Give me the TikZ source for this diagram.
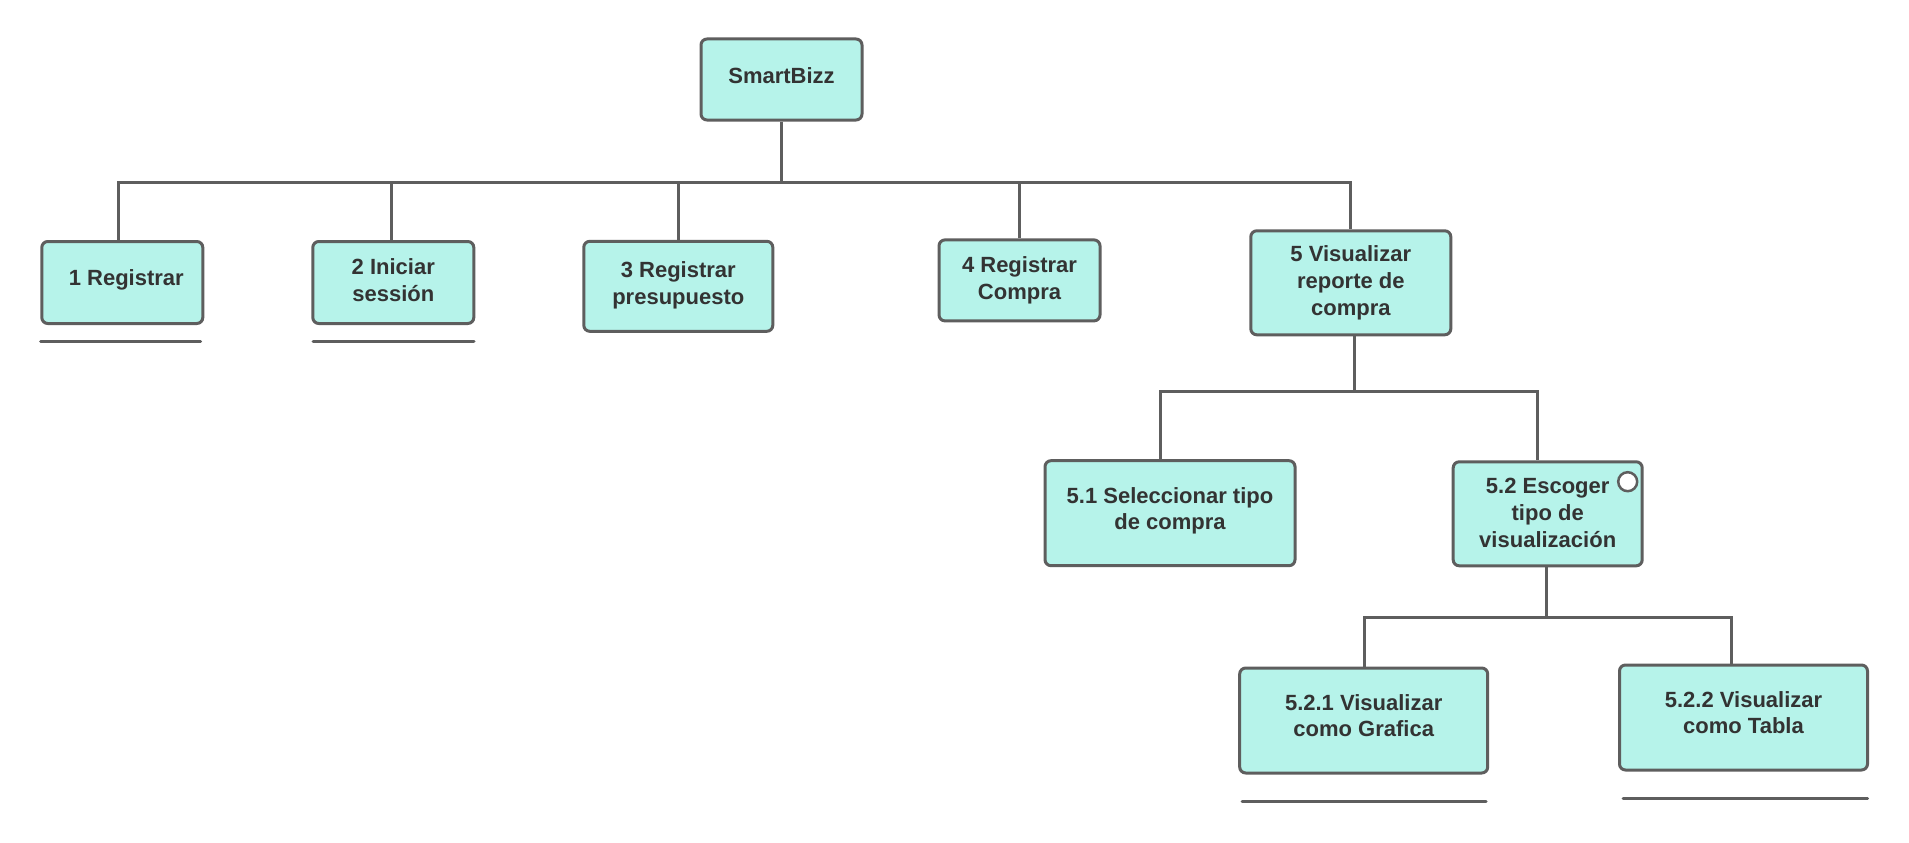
\documentclass[tikz,border=0pt]{standalone}
\usepackage{fontspec}
\setmainfont{Liberation Sans}
\definecolor{boxfill}{HTML}{B6F3EA}
\definecolor{edgegray}{HTML}{5E5E5E}
\definecolor{txtgray}{HTML}{333333}
\tikzset{
  box/.style={draw=edgegray, fill=boxfill, line width=3pt, rounded corners=6pt,
    inner sep=0pt},
  boxtext/.style={inner sep=0pt, align=center, text=txtgray,
    font=\fontsize{22}{26.7}\selectfont\bfseries},
  link/.style={draw=edgegray, line width=3pt},
  uline/.style={draw=edgegray, line width=3pt, line cap=round},
}
\begin{document}
\begin{tikzpicture}[x=1pt,y=-1pt]
\useasboundingbox[fill=white] (0,0) rectangle (1909,843);

% boxes
\node[box, minimum width=161pt, minimum height=81pt] (top) at (781.5,79.5) {};
\node[box, minimum width=161pt, minimum height=82pt] (n1) at (122.3,282.5) {};
\node[box, minimum width=161pt, minimum height=82pt] (n2) at (393.3,282.5) {};
\node[box, minimum width=189pt, minimum height=90pt] (n3) at (678.3,286.3) {};
\node[box, minimum width=161pt, minimum height=81pt] (n4) at (1019.5,280.4) {};
\node[box, minimum width=200pt, minimum height=104pt] (n5) at (1350.8,282.8) {};
\node[box, minimum width=250pt, minimum height=105pt] (n51) at (1170,513.2) {};
\node[box, minimum width=189pt, minimum height=104pt] (n52) at (1547.7,513.8) {};
\node[box, minimum width=248pt, minimum height=105pt] (n521) at (1363.7,720.5) {};
\node[box, minimum width=248pt, minimum height=105pt] (n522) at (1743.5,717.5) {};

% texts
\node[boxtext] (topt) at ([yshift=4pt]top.center) {SmartBizz};
\node[boxtext] (n1t) at ([xshift=4pt,yshift=2.5pt]n1.center) {1 Registrar};
\node[boxtext] (n2t) at ([yshift=2.5pt]n2.center) {2 Iniciar\\sessión};
\node[boxtext] (n3t) at ([yshift=1pt]n3.center) {3 Registrar\\presupuesto};
\node[boxtext] (n4t) at (n4.center) {4 Registrar\\Compra};
\node[boxtext] (n5t) at (n5.center) {5 Visualizar\\reporte de\\compra};
\node[boxtext] (n51t) at ([yshift=2.5pt]n51.center) {5.1 Seleccionar tipo\\de compra};
\node[boxtext] (n52t) at ([yshift=1pt]n52.center) {5.2 Escoger\\tipo de\\visualización};
\node[boxtext] (n521t) at ([yshift=5pt]n521.center) {5.2.1 Visualizar\\como Grafica};
\node[boxtext] (n522t) at ([yshift=5pt]n522.center) {5.2.2 Visualizar\\como Tabla};

% small circle on 5.2
\node[circle, draw=edgegray, fill=white, line width=2.5pt, minimum size=19pt, inner sep=0pt] (c52) at (1627.7,481.7) {};

% bus coordinates
\coordinate (bus1) at (0,182.8);
\coordinate (bus2) at (0,391.5);
\coordinate (bus3) at (0,617);

% stem anchor points
\coordinate (s1) at ([xshift=-4pt]n1.north);
\coordinate (s2) at ([xshift=-1.6pt]n2.north);
\coordinate (s3) at (n3.north);
\coordinate (s4) at (n4.north);
\coordinate (s5) at (n5.north);
\coordinate (s5b) at ([xshift=4pt]n5.south);
\coordinate (s51) at ([xshift=-10pt]n51.north);
\coordinate (s52) at ([xshift=-10.4pt]n52.north);
\coordinate (s52b) at ([xshift=-1pt]n52.south);
\coordinate (s521) at ([xshift=1.1pt]n521.north);
\coordinate (s522) at ([xshift=-12.5pt]n522.north);

% level 1
\draw[link] (top.south) -- (top.south |- bus1);
\draw[link] (s1) -- (s1 |- bus1) -- (s5 |- bus1) -- (s5);
\draw[link] (s2) -- (s2 |- bus1);
\draw[link] (s3) -- (s3 |- bus1);
\draw[link] (s4) -- (s4 |- bus1);

% level 2
\draw[link] (s5b) -- (s5b |- bus2);
\draw[link] (s51) -- (s51 |- bus2) -- (s52 |- bus2) -- (s52);

% level 3
\draw[link] (s52b) -- (s52b |- bus3);
\draw[link] (s521) -- (s521 |- bus3) -- (s522 |- bus3) -- (s522);

% underlines
\draw[uline] (40.7,341.7) -- (200.7,341.7);
\draw[uline] (313,341.7) -- (474,341.7);
\draw[uline] (1242,801.7) -- (1486,801.7);
\draw[uline] (1623,798) -- (1867.6,798);
\end{tikzpicture}
\end{document}
